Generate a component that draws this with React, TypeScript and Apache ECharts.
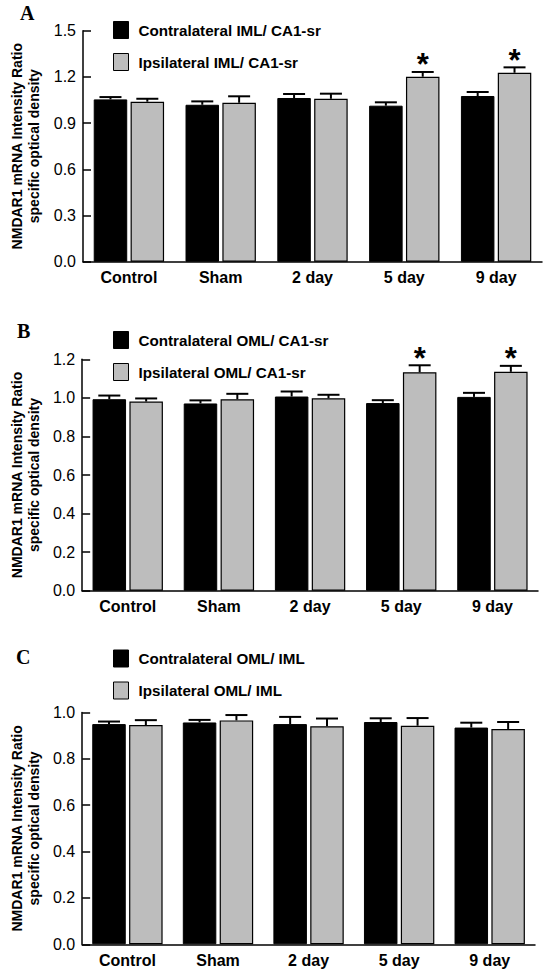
import React, { useEffect, useRef } from "react";
import * as echarts from "echarts";

const categories = ["Control", "Sham", "2 day", "5 day", "9 day"];

// Panel A
const contraA = [1.054, 1.019, 1.063, 1.013, 1.076];
const contraAErr = [1.069, 1.041, 1.089, 1.035, 1.102];
const ipsiA = [1.039, 1.032, 1.058, 1.201, 1.227];
const ipsiAErr = [1.058, 1.074, 1.091, 1.232, 1.262];
const sigA = [false, false, false, true, true];

// Panel B
const contraB = [0.993, 0.971, 1.007, 0.973, 1.005];
const contraBErr = [1.012, 0.987, 1.033, 0.988, 1.026];
const ipsiB = [0.981, 0.993, 0.998, 1.133, 1.135];
const ipsiBErr = [0.997, 1.021, 1.016, 1.169, 1.166];
const sigB = [false, false, false, true, true];

// Panel C
const contraC = [0.95, 0.957, 0.95, 0.959, 0.935];
const contraCErr = [0.961, 0.968, 0.981, 0.975, 0.956];
const ipsiC = [0.946, 0.966, 0.941, 0.943, 0.929];
const ipsiCErr = [0.967, 0.989, 0.974, 0.976, 0.959];
const sigC = [false, false, false, false, false];

const yTicksA = { min: 0, max: 1.5, interval: 0.3 };
const yTicksB = { min: 0, max: 1.2, interval: 0.2 };
const yTicksC = { min: 0, max: 1.0, interval: 0.2 };

const legendA = ["Contralateral IML/ CA1-sr", "Ipsilateral IML/ CA1-sr"];
const legendB = ["Contralateral OML/ CA1-sr", "Ipsilateral OML/ CA1-sr"];
const legendC = ["Contralateral OML/ IML", "Ipsilateral OML/ IML"];

const yName = "NMDAR1 mRNA Intensity Ratio\nspecific optical density";

const FONT = "Liberation Sans";
const BAR_W = 33.5;
const GAP_PCT = 0.1;
const OFF = (BAR_W + BAR_W * GAP_PCT) / 2;
const GRAY = "#bdbdbd";

export default function App() {
  const ref = useRef<HTMLDivElement>(null);
  useEffect(() => {
    if (!ref.current) return;
    const chart = echarts.init(ref.current, undefined, { renderer: "svg" });

    const panels = [
      { grid: { left: 83, top: 30.7, width: 459, height: 231 }, y: yTicksA, c: contraA, ce: contraAErr, p: ipsiA, pe: ipsiAErr, sig: sigA, leg: legendA, legTop: 21 },
      { grid: { left: 79, top: 359.3, width: 459, height: 231.4 }, y: yTicksB, c: contraB, ce: contraBErr, p: ipsiB, pe: ipsiBErr, sig: sigB, leg: legendB, legTop: 331 },
      { grid: { left: 74.5, top: 712.5, width: 460.5, height: 231.8 }, y: yTicksC, c: contraC, ce: contraCErr, p: ipsiC, pe: ipsiCErr, sig: sigC, leg: legendC, legTop: 649.5 },
    ];

    const makeErr = (offset: number) => (params: any, api: any) => {
      const i = api.value(0);
      const v = api.value(1);
      const e = api.value(2);
      const s = api.value(3);
      const base = api.coord([i, v]);
      const top = api.coord([i, e]);
      const x = base[0] + offset;
      const children: any[] = [
        { type: "line", shape: { x1: x, y1: base[1], x2: x, y2: top[1] }, style: { stroke: "#000", lineWidth: 2 } },
        { type: "line", shape: { x1: x - 11, y1: top[1], x2: x + 11, y2: top[1] }, style: { stroke: "#000", lineWidth: 2 } },
      ];
      if (s === 1) {
        children.push({
          type: "text",
          style: { text: "*", x: x, y: top[1] - 7, textAlign: "center", textVerticalAlign: "middle", font: `bold 31px "${FONT}"`, fill: "#000" },
        });
      }
      return { type: "group", children };
    };

    const grids: any[] = [];
    const xAxes: any[] = [];
    const yAxes: any[] = [];
    const series: any[] = [];
    const legends: any[] = [];

    panels.forEach((pn, gi) => {
      grids.push(pn.grid);
      xAxes.push({
        type: "category",
        gridIndex: gi,
        data: categories,
        axisLine: { lineStyle: { color: "#000", width: 1.5 } },
        axisTick: { inside: true, length: 5, lineStyle: { color: "#000", width: 1.5 } },
        axisLabel: { color: "#000", fontWeight: "bold", fontSize: 16, fontFamily: FONT, margin: 8 },
      });
      yAxes.push({
        type: "value",
        gridIndex: gi,
        min: pn.y.min,
        max: pn.y.max,
        interval: pn.y.interval,
        splitLine: { show: false },
        axisLine: { show: true, lineStyle: { color: "#000", width: 1.5 } },
        axisTick: { show: true, inside: true, length: 8, lineStyle: { color: "#000", width: 1.5 } },
        axisLabel: { color: "#000", fontSize: 16, fontFamily: FONT, margin: 7, formatter: (v: number) => v.toFixed(1) },
        name: yName,
        nameLocation: "middle",
        nameGap: 38,
        nameTextStyle: { color: "#000", fontWeight: "bold", fontSize: 14, fontFamily: FONT, lineHeight: 17 },
      });
      series.push({
        type: "bar",
        name: pn.leg[0],
        xAxisIndex: gi,
        yAxisIndex: gi,
        data: pn.c,
        barWidth: BAR_W,
        barGap: `${GAP_PCT * 100}%`,
        itemStyle: { color: "#000", borderColor: "#000", borderWidth: 1 },
      });
      series.push({
        type: "bar",
        name: pn.leg[1],
        xAxisIndex: gi,
        yAxisIndex: gi,
        data: pn.p,
        barWidth: BAR_W,
        barGap: `${GAP_PCT * 100}%`,
        itemStyle: { color: GRAY, borderColor: "#000", borderWidth: 1.2 },
      });
      series.push({
        type: "custom",
        xAxisIndex: gi,
        yAxisIndex: gi,
        renderItem: makeErr(-OFF),
        data: pn.c.map((v, i) => [i, v, pn.ce[i], 0]),
        z: 5,
        silent: true,
      });
      series.push({
        type: "custom",
        xAxisIndex: gi,
        yAxisIndex: gi,
        renderItem: makeErr(OFF),
        data: pn.p.map((v, i) => [i, v, pn.pe[i], pn.sig[i] ? 1 : 0]),
        z: 5,
        silent: true,
      });
      legends.push({
        orient: "vertical",
        left: 113,
        top: pn.legTop,
        padding: 0,
        itemWidth: 15,
        itemHeight: 17,
        itemGap: 14,
        selectedMode: false,
        textStyle: { color: "#000", fontWeight: "bold", fontSize: 15.2, fontFamily: FONT, padding: [0, 0, 0, 5] },
        data: [
          { name: pn.leg[0], icon: "rect", itemStyle: { color: "#000", borderColor: "#000", borderWidth: 1 } },
          { name: pn.leg[1], icon: "rect", itemStyle: { color: GRAY, borderColor: "#000", borderWidth: 1 } },
        ],
      });
    });

    chart.setOption({
      animation: false,
      backgroundColor: "#fff",
      grid: grids,
      xAxis: xAxes,
      yAxis: yAxes,
      legend: legends,
      series,
      graphic: [
        { type: "text", left: 20, top: 3, style: { text: "A", font: `bold 20px "Liberation Serif"`, fill: "#000" } },
        { type: "text", left: 17, top: 321, style: { text: "B", font: `bold 20px "Liberation Serif"`, fill: "#000" } },
        { type: "text", left: 16, top: 647, style: { text: "C", font: `bold 20px "Liberation Serif"`, fill: "#000" } },
      ],
    });

    return () => chart.dispose();
  }, []);

  return <div ref={ref} style={{ position: "absolute", left: 0, top: 0, width: 548, height: 972 }} />;
}
